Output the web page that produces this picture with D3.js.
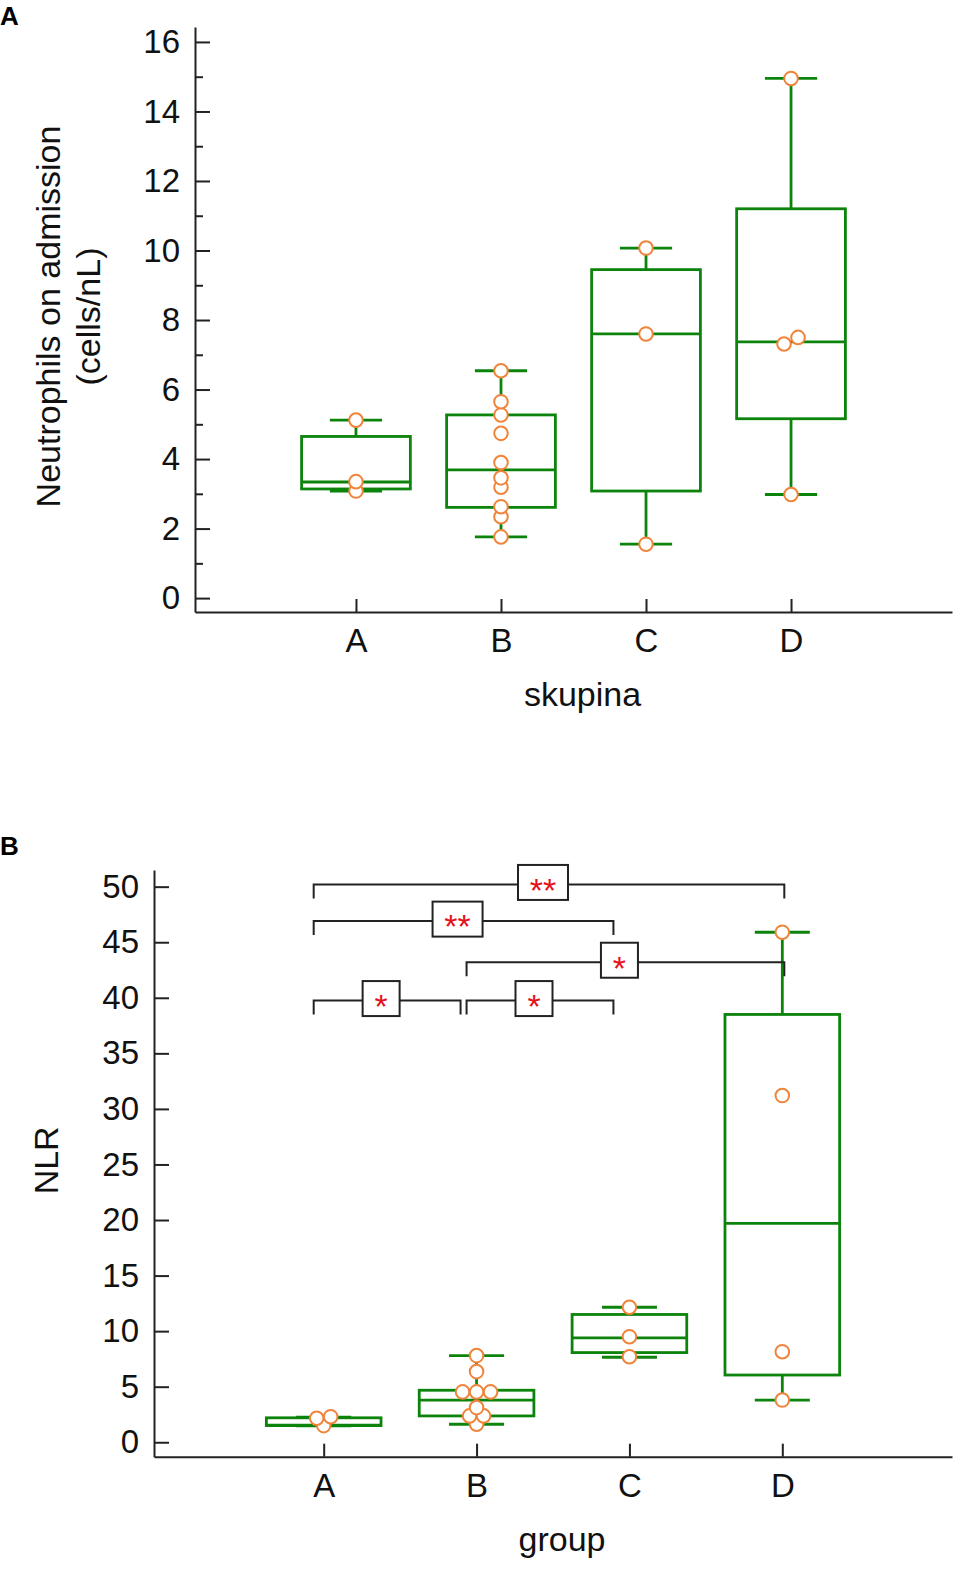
<!DOCTYPE html>
<html>
<head>
<meta charset="utf-8">
<script src="https://cdn.jsdelivr.net/npm/d3@7"></script>
<style>
  body { margin: 0; background: #fff; }
  svg { display: block; }
</style>
</head>
<body>
<svg id="fig" width="964" height="1570"></svg>
<script>
var groups = ["A", "B", "C", "D"];

// panel A - neutrophils on admission (cells/nL)
var neutroLow = [3.08, 1.76, 1.55, 2.98];
var neutroQ1 = [3.14, 2.61, 3.08, 5.16];
var neutroMedian = [3.34, 3.69, 7.6, 7.37];
var neutroQ3 = [4.65, 5.27, 9.45, 11.2];
var neutroHigh = [5.12, 6.54, 10.07, 14.95];
var neutroPoints = [
  [5.12, 3.35, 3.08],
  [6.54, 5.65, 5.27, 4.74, 3.9, 3.46, 3.19, 2.63, 2.34, 1.76],
  [10.07, 7.6, 1.55],
  [14.95, 7.5, 7.31, 2.98]
];
var neutroTicks = [0, 2, 4, 6, 8, 10, 12, 14, 16];
var neutroMinorTicks = [1, 3, 5, 7, 9, 11, 13, 15];

// panel B - NLR
var nlrLow = [1.47, 1.62, 7.65, 3.8];
var nlrQ1 = [1.5, 2.37, 8.07, 6.05];
var nlrMedian = [1.55, 3.8, 9.4, 19.7];
var nlrQ3 = [2.2, 4.68, 11.5, 38.5];
var nlrHigh = [2.25, 7.8, 12.15, 45.9];
var nlrPoints = [
  [2.3, 2.16, 1.5],
  [7.8, 6.36, 4.53, 4.53, 4.53, 3.12, 2.37, 2.37, 1.62],
  [12.15, 9.5, 7.7],
  [45.9, 31.2, 8.15, 3.8]
];
var nlrTicks = [0, 5, 10, 15, 20, 25, 30, 35, 40, 45, 50];

// significance brackets (panel B)
var sigFrom = ["A", "A", "B", "A", "B"];
var sigTo = ["D", "C", "D", "B", "C"];
var sigLevel = [50.2, 46.9, 43.2, 39.75, 39.75];
var sigText = ["**", "**", "*", "*", "*"];

var green = "#0c840c",
    orange = "#f0843a",
    axisColor = "#222",
    font = "'Liberation Sans', Arial, sans-serif";

var svg = d3.select("#fig");
svg.append("rect").attr("width", 964).attr("height", 1570).attr("fill", "#fff");

// spread points that sit (almost) on top of each other
function dodge(values, y, gap, step) {
  var sorted = values.slice().sort(function (a, b) { return a - b; });
  var out = [], cluster = [];
  function flush() {
    cluster.forEach(function (v, k) {
      out.push({ v: v, dx: (k - (cluster.length - 1) / 2) * step });
    });
    cluster = [];
  }
  sorted.forEach(function (v) {
    if (cluster.length && Math.abs(y(v) - y(cluster[cluster.length - 1])) >= gap) flush();
    cluster.push(v);
  });
  flush();
  return out;
}

function drawPanel(opt) {
  var g = svg.append("g");

  var x = d3.scalePoint().domain(groups)
    .range([opt.left, opt.right]).padding(1.11);
  var y = d3.scaleLinear().domain(opt.yDomain)
    .range([opt.bottom, opt.top]);

  var step = x.step(),
      boxW = step * 0.75,
      capW = step * 0.36;

  // axes
  g.append("g")
    .attr("transform", "translate(" + opt.left + ",0)")
    .call(d3.axisLeft(y).tickValues(opt.ticks).tickSizeInner(-15).tickSizeOuter(0).tickPadding(15));
  if (opt.minorTicks) {
    g.append("g")
      .attr("transform", "translate(" + opt.left + ",0)")
      .call(d3.axisLeft(y).tickValues(opt.minorTicks).tickSizeInner(-8).tickSizeOuter(0).tickFormat(""))
      .select(".domain").remove();
  }
  g.append("g")
    .attr("transform", "translate(0," + opt.bottom + ")")
    .call(d3.axisBottom(x).tickSizeInner(-13).tickSizeOuter(0).tickPadding(17));

  g.selectAll(".domain, .tick line")
    .attr("stroke", axisColor).attr("stroke-width", 2);
  g.selectAll(".tick text")
    .attr("font-family", font).attr("font-size", 33).attr("fill", "#111");

  var data = groups.map(function (k, i) {
    return {
      key: k, low: opt.low[i], q1: opt.q1[i], med: opt.median[i],
      q3: opt.q3[i], high: opt.high[i], pts: opt.points[i]
    };
  });

  var box = g.selectAll(".box").data(data).enter().append("g").attr("class", "box")
    .attr("fill", "none").attr("stroke", green).attr("stroke-width", 2.8);

  // whiskers
  box.append("line")
    .attr("x1", function (d) { return x(d.key); })
    .attr("x2", function (d) { return x(d.key); })
    .attr("y1", function (d) { return y(d.high); })
    .attr("y2", function (d) { return y(d.q3); });
  box.append("line")
    .attr("x1", function (d) { return x(d.key); })
    .attr("x2", function (d) { return x(d.key); })
    .attr("y1", function (d) { return y(d.q1); })
    .attr("y2", function (d) { return y(d.low); });
  box.append("line")
    .attr("x1", function (d) { return x(d.key) - capW / 2; })
    .attr("x2", function (d) { return x(d.key) + capW / 2; })
    .attr("y1", function (d) { return y(d.high); })
    .attr("y2", function (d) { return y(d.high); });
  box.append("line")
    .attr("x1", function (d) { return x(d.key) - capW / 2; })
    .attr("x2", function (d) { return x(d.key) + capW / 2; })
    .attr("y1", function (d) { return y(d.low); })
    .attr("y2", function (d) { return y(d.low); });

  box.append("rect")
    .attr("x", function (d) { return x(d.key) - boxW / 2; })
    .attr("y", function (d) { return y(d.q3); })
    .attr("width", boxW)
    .attr("height", function (d) { return y(d.q1) - y(d.q3); });
  box.append("line")
    .attr("x1", function (d) { return x(d.key) - boxW / 2; })
    .attr("x2", function (d) { return x(d.key) + boxW / 2; })
    .attr("y1", function (d) { return y(d.med); })
    .attr("y2", function (d) { return y(d.med); });

  // raw observations
  box.each(function (d) {
    d3.select(this).selectAll("circle")
      .data(dodge(d.pts, y, 7, 14))
      .enter().append("circle")
      .attr("cx", function (p) { return x(d.key) + p.dx; })
      .attr("cy", function (p) { return y(p.v); })
      .attr("r", 6.8)
      .attr("fill", "#fff")
      .attr("stroke", orange)
      .attr("stroke-width", 2);
  });

  // titles
  g.append("text")
    .attr("x", (opt.left + opt.right) / 2 + 9)
    .attr("y", opt.bottom + 94)
    .attr("text-anchor", "middle")
    .attr("font-family", font).attr("font-size", 34).attr("fill", "#111")
    .text(opt.xTitle);

  opt.yTitle.forEach(function (t, i) {
    g.append("text")
      .attr("transform", "translate(" + opt.yTitleX[i] + "," + ((opt.top + opt.bottom) / 2 - 3) + ") rotate(-90)")
      .attr("text-anchor", "middle")
      .attr("font-family", font).attr("font-size", 34).attr("fill", "#111")
      .text(t);
  });

  svg.append("text")
    .attr("x", 0).attr("y", opt.labelY)
    .attr("font-family", font).attr("font-weight", "bold").attr("font-size", 26)
    .text(opt.label);

  return { g: g, x: x, y: y };
}

drawPanel({
  left: 195, right: 952, top: 27, bottom: 612,
  yDomain: [-0.4, 16.43],
  ticks: neutroTicks, minorTicks: neutroMinorTicks,
  low: neutroLow, q1: neutroQ1, median: neutroMedian, q3: neutroQ3, high: neutroHigh,
  points: neutroPoints,
  xTitle: "skupina",
  yTitle: ["Neutrophils on admission", "(cells/nL)"], yTitleX: [60, 100],
  label: "A", labelY: 25
});

var pb = drawPanel({
  left: 154, right: 952, top: 870, bottom: 1456.7,
  yDomain: [-1.3, 51.5],
  ticks: nlrTicks,
  low: nlrLow, q1: nlrQ1, median: nlrMedian, q3: nlrQ3, high: nlrHigh,
  points: nlrPoints,
  xTitle: "group",
  yTitle: ["NLR"], yTitleX: [58],
  label: "B", labelY: 855
});

// significance brackets
var last = groups[groups.length - 1];
var sig = sigFrom.map(function (f, i) {
  return { from: f, to: sigTo[i], level: sigLevel[i], text: sigText[i] };
});

var br = pb.g.selectAll(".sig").data(sig).enter().append("g").attr("class", "sig");

br.each(function (d) {
  var s = d3.select(this),
      x0 = pb.x(d.from) - 10,
      x1 = d.to === last ? pb.x(d.to) + 2 : pb.x(d.to) - 16,
      yl = pb.y(d.level),
      w = 24 + 13 * d.text.length,
      h = 35,
      cx = (x0 + x1) / 2 - 6,
      cy = yl - 2,
      fs = 34;

  s.append("path")
    .attr("d", "M" + x0 + "," + (yl + 14) + "V" + yl + "H" + x1 + "V" + (yl + 14))
    .attr("fill", "none").attr("stroke", axisColor).attr("stroke-width", 2);

  s.append("rect")
    .attr("x", cx - w / 2).attr("y", cy - h / 2)
    .attr("width", w).attr("height", h)
    .attr("fill", "#fff").attr("stroke", axisColor).attr("stroke-width", 2);

  s.append("text")
    .attr("x", cx).attr("y", cy + 0.57 * fs)
    .attr("text-anchor", "middle")
    .attr("font-family", font).attr("font-size", fs).attr("fill", "#e5121b")
    .text(d.text);
});
</script>
</body>
</html>
